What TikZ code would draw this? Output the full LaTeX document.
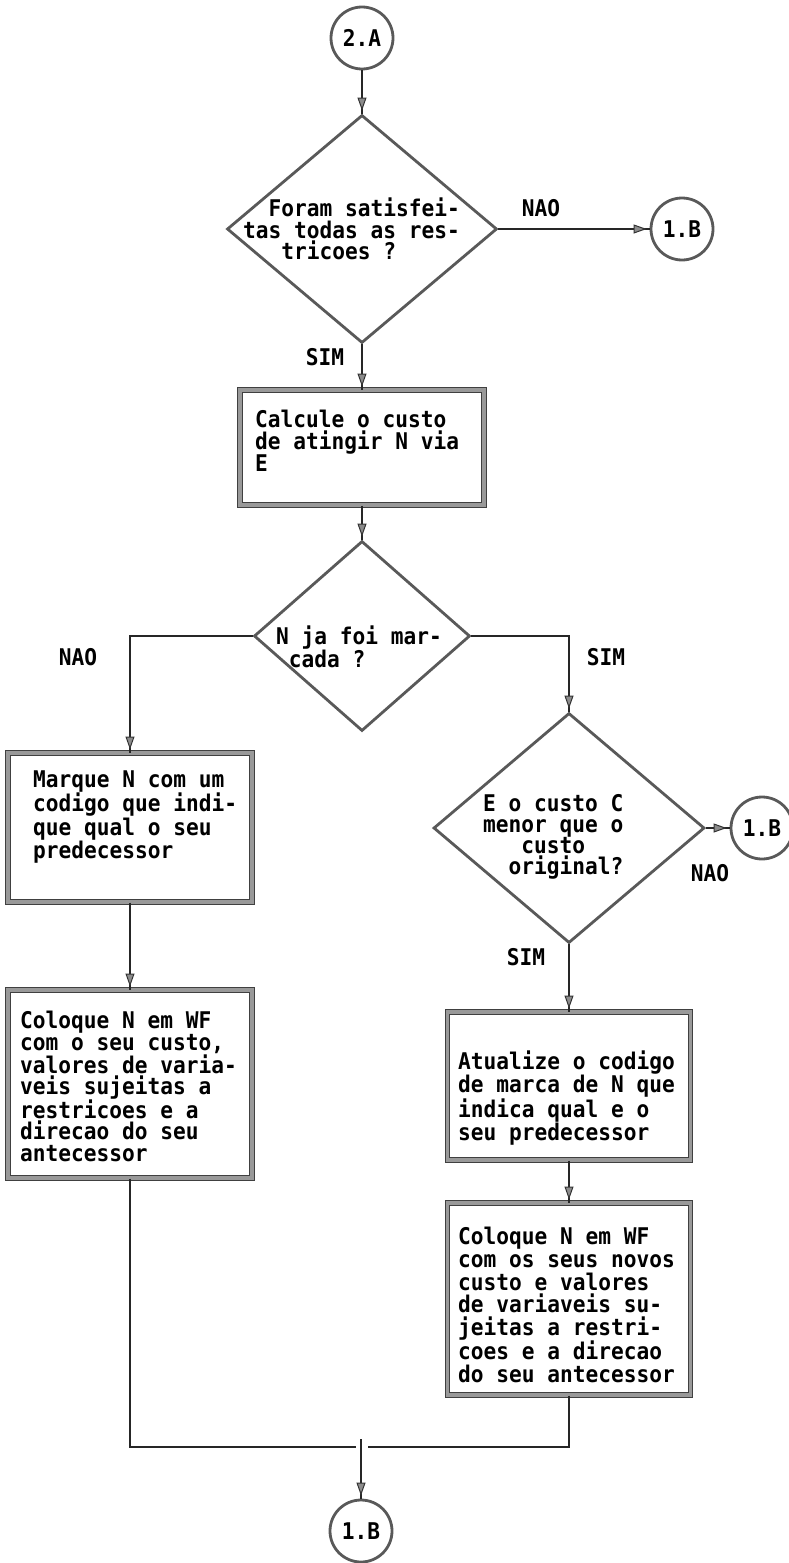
\documentclass[tikz,border=0pt]{standalone}
\usepackage{fontspec}
\usetikzlibrary{shapes.geometric,arrows.meta,decorations.markings}
% condensed bold monospace face for all the flowchart text
\newfontfamily\flowfam[FakeStretch=0.92]{DejaVu Sans Mono}
\newcommand{\flowfont}{\flowfam\bfseries\fontsize{23}{21.2}\selectfont}

\tikzset{
  conn/.style={draw=black!85, line width=1.8pt},
  arrowmark/.style={postaction={decorate},
    decoration={markings, mark=at position -3pt with
      {\arrow[line width=1pt]{Triangle[length=13pt,width=9pt,color=black!80,fill=black!45]}}}},
  boxst/.style={rectangle, draw=black!75, double=black!40, double distance=3.2pt,
    line width=1pt, inner sep=0pt},
  decst/.style={diamond, draw=black!65, line width=2.8pt, inner sep=0pt},
  connst/.style={circle, draw=black!65, line width=2.8pt, inner sep=0pt,
    font=\flowfont, minimum size=62pt},
  txt/.style={font=\flowfont, align=left, inner sep=0pt, text=black},
}

\begin{document}
\begin{tikzpicture}[x=1pt, y=-1pt]
\useasboundingbox (0,0) rectangle (789,1563);

% connectors (off-page references)
\node[connst] (c0) at (362,38) {2.A};
\node[connst] (c1) at (682,229) {1.B};
\node[connst] (c3) at (762,828) {1.B};
\node[connst] (c2) at (361,1531) {1.B};

% decisions
\node[decst, minimum width=270pt, minimum height=228pt] (d1) at (362,229) {};
\node[txt, anchor=west] (d1t) at (243,229)
  {\hphantom{xx}Foram satisfei-\\tas todas as res-\\\hphantom{xxx}tricoes ?};

\node[decst, minimum width=216pt, minimum height=190pt] (d2) at (362,636) {};
\node[txt, anchor=west] (d2t) at (276,647) {N ja foi mar-\\\hphantom{x}cada ?};

\node[decst, minimum width=271pt, minimum height=230pt] (d3) at (569,828) {};
\node[txt, anchor=west] (d3t) at (483,837)
  {E o custo C\\menor que o\\\hphantom{xxx}custo\\\hphantom{xx}original?};

% process boxes
\node[boxst, minimum width=244pt, minimum height=115pt] (b1) at (362,447.5) {};
\node[txt, anchor=west] (b1t) at (255,441) {Calcule o custo\\de atingir N via\\E};

\node[boxst, minimum width=244pt, minimum height=149pt] (b2) at (130,827.5) {};
\node[txt, anchor=west] (b2t) at (33,817)
  {Marque N com um\\codigo que indi-\\que qual o seu\\predecessor};

\node[boxst, minimum width=244pt, minimum height=188pt] (b3) at (130,1084) {};
\node[txt, anchor=west] (b3t) at (20,1086.5)
  {Coloque N em WF\\com o seu custo,\\valores de varia-\\veis sujeitas a\\restricoes e a\\direcao do seu\\antecessor};

\node[boxst, minimum width=243pt, minimum height=148pt] (b4) at (569,1086) {};
\node[txt, anchor=west] (b4t) at (458,1098)
  {Atualize o codigo\\de marca de N que\\indica qual e o\\seu predecessor};

\node[boxst, minimum width=243pt, minimum height=192pt] (b5) at (569,1299) {};
\node[txt, anchor=west, font={\flowfont\fontsize{23}{22.6}\selectfont}] (b5t) at (458,1305)
  {Coloque N em WF\\com os seus novos\\custo e valores\\de variaveis su-\\jeitas a restri-\\coes e a direcao\\do seu antecessor};

% branch labels
\node[txt] (l1) at (541,208) {NAO};
\node[txt] (l2) at (325,357) {SIM};
\node[txt] (l3) at (78,657) {NAO};
\node[txt] (l4) at (606,657) {SIM};
\node[txt] (l5) at (710,873) {NAO};
\node[txt] (l6) at (526,957) {SIM};

% flow lines
\draw[conn, arrowmark] (c0.south) -- (d1.north);
\draw[conn, arrowmark] (d1.east) -- (c1.west);
\draw[conn, arrowmark] (d1.south) -- (b1.north);
\draw[conn, arrowmark] (b1.south) -- (d2.north);
\draw[conn, arrowmark] (d2.west) -| (b2.north);
\draw[conn, arrowmark] (d2.east) -| (d3.north);
\draw[conn, arrowmark] (b2.south) -- (b3.north);
\draw[conn, arrowmark] (d3.east) -- (c3.west);
\draw[conn, arrowmark] (d3.south) -- (b4.north);
\draw[conn, arrowmark] (b4.south) -- (b5.north);

% merge of both branches into the final connector
\coordinate (mL) at (356,1447);
\coordinate (mR) at (368,1447);
\coordinate (mT) at (361,1439);
\draw[conn] (b3.south) |- (mL);
\draw[conn] (b5.south) |- (mR);
\draw[conn, arrowmark] (mT) -- (c2.north);
\end{tikzpicture}
\end{document}
